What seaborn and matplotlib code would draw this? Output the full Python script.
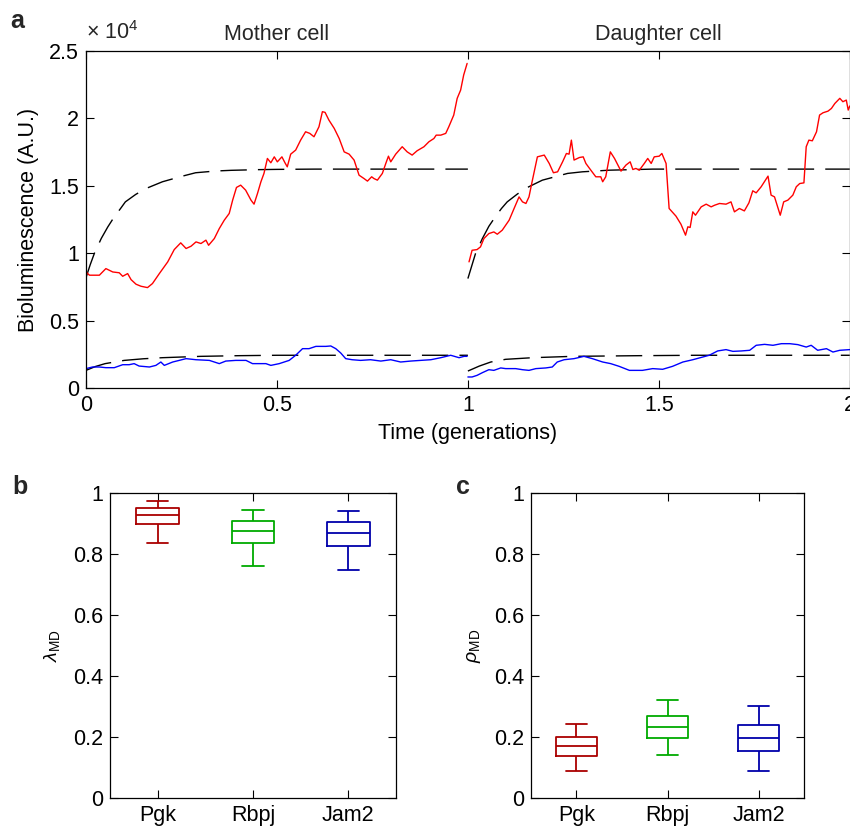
import numpy as np
import pandas as pd
import matplotlib
matplotlib.use("Agg")
import matplotlib.pyplot as plt
import matplotlib.transforms as mtransforms
import seaborn as sns

# ---------------- data ----------------
# Bioluminescence traces (units of 1e4 A.U.), time in generations
mother_red_t = [0.000, 0.009, 0.022, 0.035, 0.052, 0.070, 0.087, 0.096, 0.109, 0.118, 0.131, 0.144,
                0.161, 0.174, 0.192, 0.214, 0.231, 0.248, 0.262, 0.275, 0.288, 0.301, 0.314, 0.321,
                0.336, 0.349, 0.362, 0.375, 0.384, 0.394, 0.405, 0.418, 0.432, 0.440, 0.449, 0.458,
                0.466, 0.475, 0.484, 0.493, 0.501, 0.513, 0.521, 0.527, 0.536, 0.549, 0.562, 0.575,
                0.586, 0.597, 0.610, 0.619, 0.626, 0.636, 0.650, 0.663, 0.676, 0.689, 0.702, 0.715,
                0.728, 0.737, 0.748, 0.754, 0.763, 0.776, 0.785, 0.792, 0.798, 0.811, 0.828, 0.841,
                0.854, 0.867, 0.885, 0.898, 0.911, 0.917, 0.929, 0.942, 0.950, 0.963, 0.972, 0.981,
                0.989, 0.998]
mother_red = [0.861, 0.837, 0.837, 0.837, 0.886, 0.861, 0.855, 0.829, 0.849, 0.804, 0.770, 0.755,
              0.745, 0.775, 0.849, 0.936, 1.027, 1.077, 1.035, 1.052, 1.084, 1.072, 1.097, 1.059,
              1.109, 1.183, 1.245, 1.295, 1.394, 1.488, 1.505, 1.468, 1.394, 1.364, 1.443, 1.530,
              1.592, 1.703, 1.671, 1.715, 1.678, 1.715, 1.671, 1.641, 1.735, 1.765, 1.839, 1.901,
              1.889, 1.864, 1.938, 2.050, 2.045, 1.988, 1.926, 1.851, 1.752, 1.735, 1.691, 1.579,
              1.554, 1.535, 1.567, 1.554, 1.542, 1.592, 1.666, 1.720, 1.678, 1.735, 1.790, 1.752,
              1.728, 1.760, 1.790, 1.827, 1.851, 1.876, 1.876, 1.889, 1.938, 2.025, 2.149, 2.210,
              2.322, 2.408]

mother_blue_t = [0.000, 0.017, 0.035, 0.052, 0.074, 0.096, 0.113, 0.126, 0.139, 0.166, 0.183, 0.196,
                 0.205, 0.227, 0.244, 0.262, 0.288, 0.323, 0.349, 0.366, 0.392, 0.419, 0.436, 0.471,
                 0.484, 0.506, 0.532, 0.549, 0.567, 0.584, 0.602, 0.628, 0.641, 0.654, 0.667, 0.680,
                 0.697, 0.719, 0.745, 0.772, 0.798, 0.824, 0.850, 0.876, 0.903, 0.929, 0.955, 0.977,
                 0.990, 0.998]
mother_blue = [0.144, 0.156, 0.156, 0.151, 0.151, 0.173, 0.173, 0.181, 0.163, 0.156, 0.168, 0.193,
               0.168, 0.193, 0.205, 0.218, 0.210, 0.205, 0.181, 0.200, 0.205, 0.205, 0.181, 0.181,
               0.168, 0.181, 0.205, 0.243, 0.292, 0.292, 0.309, 0.309, 0.312, 0.292, 0.260, 0.218,
               0.210, 0.205, 0.210, 0.200, 0.210, 0.193, 0.200, 0.205, 0.210, 0.225, 0.243, 0.225,
               0.235, 0.235]

daughter_red_t = [1.003, 1.011, 1.024, 1.033, 1.042, 1.055, 1.068, 1.077, 1.090, 1.108, 1.121, 1.134,
                  1.143, 1.152, 1.160, 1.169, 1.182, 1.200, 1.213, 1.224, 1.235, 1.248, 1.258, 1.265,
                  1.271, 1.278, 1.292, 1.302, 1.309, 1.322, 1.335, 1.348, 1.353, 1.361, 1.373, 1.384,
                  1.401, 1.414, 1.425, 1.432, 1.440, 1.449, 1.462, 1.471, 1.480, 1.488, 1.501, 1.508,
                  1.519, 1.527, 1.545, 1.558, 1.570, 1.576, 1.582, 1.589, 1.596, 1.611, 1.624, 1.637,
                  1.646, 1.659, 1.676, 1.689, 1.698, 1.711, 1.724, 1.736, 1.746, 1.755, 1.768, 1.786,
                  1.794, 1.803, 1.818, 1.827, 1.838, 1.851, 1.860, 1.869, 1.880, 1.886, 1.893, 1.902,
                  1.913, 1.921, 1.930, 1.943, 1.952, 1.961, 1.974, 1.982, 1.991, 1.996, 2.000]
daughter_red = [0.936, 1.022, 1.027, 1.047, 1.109, 1.146, 1.158, 1.141, 1.171, 1.245, 1.332, 1.418,
                1.381, 1.369, 1.418, 1.542, 1.715, 1.728, 1.666, 1.597, 1.604, 1.678, 1.740, 1.735,
                1.839, 1.691, 1.710, 1.715, 1.666, 1.616, 1.567, 1.567, 1.530, 1.567, 1.752, 1.703,
                1.609, 1.654, 1.678, 1.621, 1.629, 1.616, 1.666, 1.703, 1.666, 1.715, 1.720, 1.740,
                1.666, 1.332, 1.275, 1.215, 1.134, 1.196, 1.191, 1.307, 1.282, 1.344, 1.364, 1.344,
                1.356, 1.369, 1.364, 1.381, 1.307, 1.332, 1.314, 1.374, 1.463, 1.448, 1.493, 1.572,
                1.431, 1.418, 1.282, 1.381, 1.394, 1.431, 1.493, 1.517, 1.522, 1.790, 1.839, 1.834,
                1.901, 2.025, 2.042, 2.054, 2.074, 2.111, 2.149, 2.124, 2.136, 2.062, 2.092]

daughter_blue_t = [1.000, 1.011, 1.024, 1.038, 1.055, 1.068, 1.086, 1.099, 1.125, 1.143, 1.160, 1.178,
                   1.204, 1.221, 1.234, 1.252, 1.278, 1.304, 1.326, 1.353, 1.374, 1.396, 1.423, 1.457,
                   1.484, 1.510, 1.536, 1.563, 1.589, 1.615, 1.632, 1.654, 1.676, 1.694, 1.716, 1.738,
                   1.755, 1.777, 1.799, 1.821, 1.843, 1.864, 1.886, 1.899, 1.916, 1.939, 1.956, 1.974,
                   2.000]
daughter_blue = [0.082, 0.082, 0.094, 0.114, 0.136, 0.131, 0.149, 0.144, 0.144, 0.136, 0.131, 0.144,
                 0.149, 0.156, 0.193, 0.210, 0.218, 0.235, 0.218, 0.193, 0.181, 0.161, 0.131, 0.131,
                 0.144, 0.139, 0.161, 0.193, 0.210, 0.230, 0.243, 0.275, 0.285, 0.272, 0.275, 0.280,
                 0.317, 0.324, 0.317, 0.329, 0.329, 0.322, 0.304, 0.317, 0.280, 0.292, 0.267, 0.280,
                 0.285]

# Model fits (dashed)
mother_red_fit_t = [0.000, 0.011, 0.022, 0.040, 0.057, 0.074, 0.090, 0.103, 0.130, 0.157, 0.200,
                    0.250, 0.287, 0.340, 0.380, 0.450, 0.500, 0.600, 0.800, 1.000]
mother_red_fit = [0.820, 0.915, 1.000, 1.110, 1.195, 1.270, 1.330, 1.381, 1.436, 1.480, 1.530,
                  1.570, 1.597, 1.610, 1.615, 1.620, 1.622, 1.624, 1.624, 1.624]
mother_blue_fit_t = [0.000, 0.025, 0.050, 0.100, 0.150, 0.200, 0.300, 0.400, 0.500, 0.700, 1.000]
mother_blue_fit = [0.131, 0.160, 0.181, 0.205, 0.217, 0.225, 0.235, 0.240, 0.243, 0.243, 0.243]

daughter_red_fit_t = [1.000, 1.010, 1.020, 1.038, 1.055, 1.073, 1.088, 1.103, 1.130, 1.156, 1.195,
                      1.261, 1.300, 1.370, 1.484, 1.600, 1.800, 2.000]
daughter_red_fit = [0.812, 0.905, 0.998, 1.109, 1.200, 1.275, 1.332, 1.381, 1.440, 1.488, 1.542,
                    1.592, 1.604, 1.616, 1.624, 1.624, 1.624, 1.624]
daughter_blue_fit_t = [1.000, 1.030, 1.060, 1.099, 1.169, 1.274, 1.449, 1.600, 1.800, 2.000]
daughter_blue_fit = [0.126, 0.163, 0.193, 0.213, 0.225, 0.235, 0.240, 0.243, 0.243, 0.243]

# Box-plot summaries: whisker low, Q1, median, Q3, whisker high
genes = ["Pgk", "Rbpj", "Jam2"]
gene_colors = ["#AA0000", "#00AA00", "#0000AA"]
lambda_md = {
    "Pgk": [0.836, 0.898, 0.929, 0.951, 0.975],
    "Rbpj": [0.761, 0.835, 0.875, 0.908, 0.943],
    "Jam2": [0.747, 0.826, 0.870, 0.905, 0.942],
}
rho_md = {
    "Pgk": [0.089, 0.138, 0.170, 0.199, 0.244],
    "Rbpj": [0.141, 0.196, 0.233, 0.268, 0.321],
    "Jam2": [0.088, 0.153, 0.196, 0.240, 0.302],
}

x_ticks = [0, 0.5, 1, 1.5, 2]
y_ticks_a = [0, 0.5, 1, 1.5, 2, 2.5]
y_ticks_box = [0, 0.2, 0.4, 0.6, 0.8, 1.0]

# ---------------- style ----------------
sns.set_theme(style="ticks")
plt.rcParams["font.family"] = ["Liberation Sans", "DejaVu Sans"]
plt.rcParams["mathtext.fontset"] = "custom"
plt.rcParams["mathtext.rm"] = "Liberation Sans"
plt.rcParams["mathtext.it"] = "Liberation Sans:italic"
plt.rcParams["axes.linewidth"] = 0.9
plt.rcParams["axes.edgecolor"] = "black"

FS = 15.5
fig = plt.figure(figsize=(8.5, 8.27), dpi=100)

def style_axes(ax):
    ax.tick_params(direction="in", length=5.8, width=0.8, top=True, right=True,
                   labelsize=FS, colors="black", pad=5)
    for s in ax.spines.values():
        s.set_visible(True)
        s.set_color("black")
        s.set_linewidth(0.9)

# ---------------- panel a ----------------
ax = fig.add_axes([0.1012, 0.5308, 0.8985, 0.4075])
dash = (0, (19, 8))
for t, v in [(mother_red_fit_t, mother_red_fit), (daughter_red_fit_t, daughter_red_fit),
             (mother_blue_fit_t, mother_blue_fit), (daughter_blue_fit_t, daughter_blue_fit)]:
    sns.lineplot(x=t, y=v, color="black", linewidth=1.0, linestyle=dash, ax=ax,
                 estimator=None, sort=False)
for t, v, c in [(mother_red_t, mother_red, "#FF0000"), (daughter_red_t, daughter_red, "#FF0000"),
                (mother_blue_t, mother_blue, "#0000FF"), (daughter_blue_t, daughter_blue, "#0000FF")]:
    sns.lineplot(x=t, y=v, color=c, linewidth=1.0, ax=ax, estimator=None, sort=False)

ax.set_xlim(0, 2)
ax.set_ylim(0, 2.5)
ax.set_xticks(x_ticks)
ax.set_xticklabels(["0", "0.5", "1", "1.5", "2"])
ax.set_yticks(y_ticks_a)
ax.set_yticklabels(["0", "0.5", "1", "1.5", "2", "2.5"])
style_axes(ax)
ax.set_xlabel("Time (generations)", fontsize=FS, color="black", labelpad=5)
ax.set_ylabel("Bioluminescence (A.U.)", fontsize=FS, color="black", labelpad=7)
trans = mtransforms.blended_transform_factory(ax.transData, ax.transAxes)
ax.text(0.5, 1.033, "Mother cell", transform=trans, ha="center", va="baseline", fontsize=FS)
ax.text(1.5, 1.033, "Daughter cell", transform=trans, ha="center", va="baseline", fontsize=FS)
ax.text(0.0, 1.036, r"$\times\ 10^{4}$", transform=ax.transAxes, ha="left", va="baseline",
        fontsize=FS)

# ---------------- panels b, c ----------------
def box_panel(rect, summary, ylabel):
    bx = fig.add_axes(rect)
    df = pd.DataFrame([(g, v) for g in genes for v in summary[g]], columns=["gene", "value"])
    sns.boxplot(data=df, x="gene", y="value", hue="gene", order=genes, hue_order=genes,
                palette=gene_colors, fill=False, whis=(0, 100), width=0.45,
                linewidth=1.3, legend=False, ax=bx)
    bx.set_xlim(-0.5, 2.5)
    bx.set_ylim(0, 1)
    bx.set_yticks(y_ticks_box)
    bx.set_yticklabels(["0", "0.2", "0.4", "0.6", "0.8", "1"])
    style_axes(bx)
    bx.set_xlabel("")
    bx.set_ylabel(ylabel, fontsize=14, color="black", labelpad=8)
    return bx

box_panel([0.1294, 0.0351, 0.3365, 0.3688], lambda_md, r"$\lambda_{\mathrm{MD}}$")
box_panel([0.6247, 0.0351, 0.3212, 0.3688], rho_md, r"$\rho_{\mathrm{MD}}$")

# panel letters
fig.text(0.012, 0.975, "a", fontsize=18, fontweight="bold", va="center")
fig.text(0.014, 0.411, "b", fontsize=18, fontweight="bold", va="center")
fig.text(0.537, 0.411, "c", fontsize=18, fontweight="bold", va="center")

fig.savefig("out.png", dpi=100, facecolor="white")
